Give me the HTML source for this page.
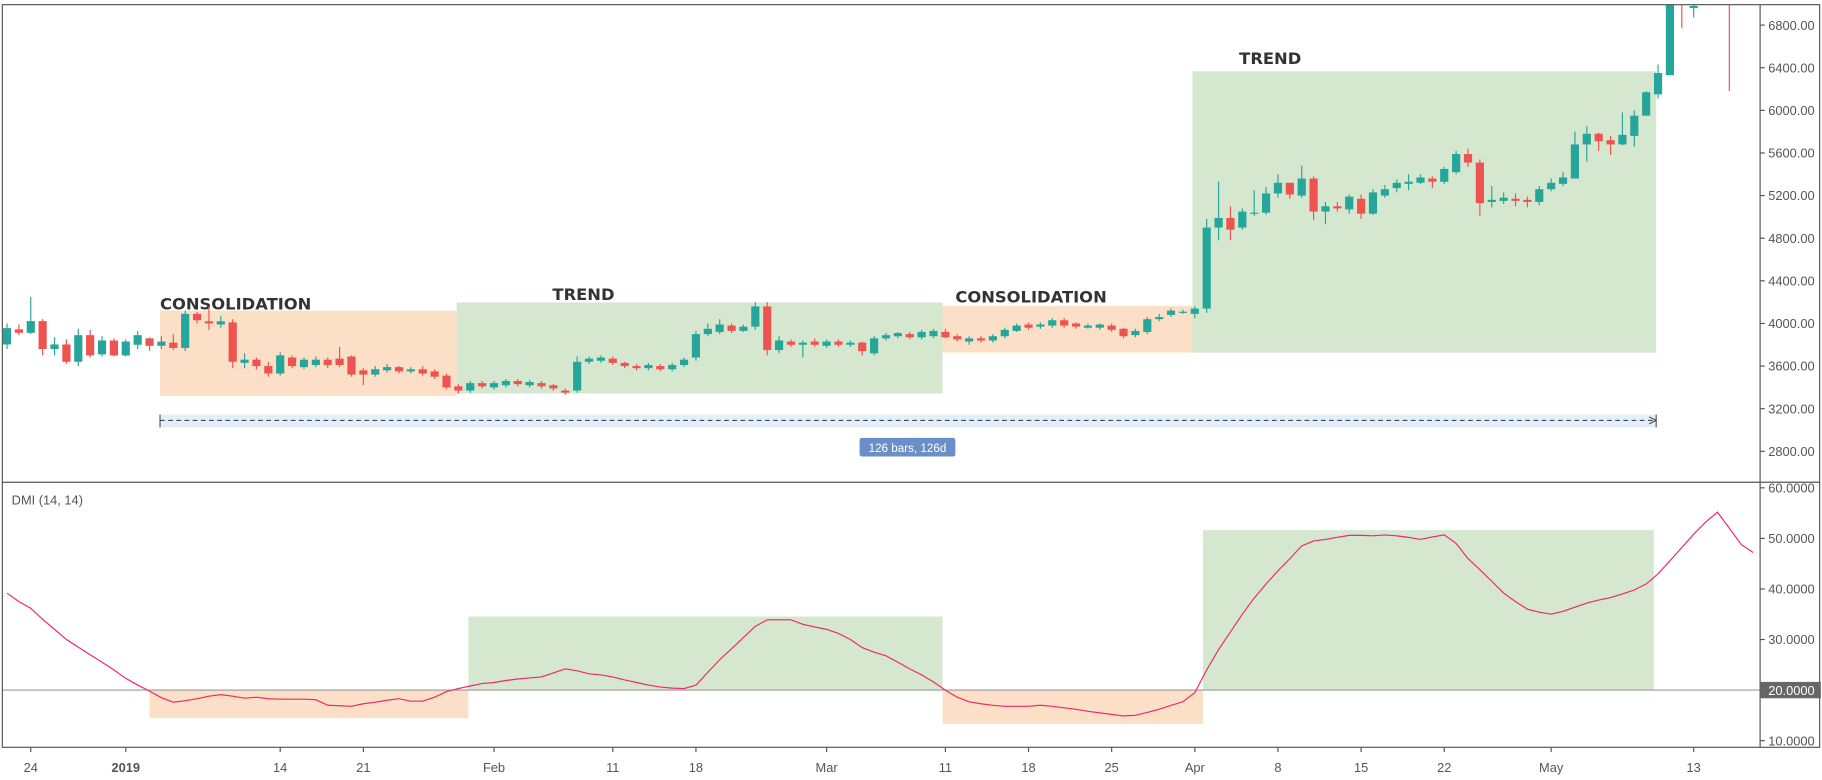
<!DOCTYPE html>
<html><head><meta charset="utf-8"><style>
html,body{margin:0;padding:0;background:#fff;}
svg{display:block;font-family:"Liberation Sans",sans-serif;}
</style></head><body>
<svg id="chart" width="1822" height="780" viewBox="0 0 1560 668" preserveAspectRatio="none" xmlns="http://www.w3.org/2000/svg">
<rect x="0" y="0" width="1560" height="668" fill="#fff"/>
<g id="zones"></g>
<g id="candles"></g>
<g id="dmi"></g>
<g id="axes"></g>
</svg>
<script>
const opens=[3803,3945,3912,4022,3760,3803,3640,3890,3710,3840,3700,3800,3860,3790,3820,3770,4090,4020,3990,4010,3630,3660,3600,3530,3680,3590,3610,3660,3670,3690,3560,3520,3560,3590,3550,3570,3550,3510,3410,3370,3440,3400,3420,3460,3420,3440,3420,3370,3370,3640,3650,3670,3630,3600,3580,3600,3570,3610,3680,3900,3920,3980,3930,3970,4160,3750,3830,3800,3830,3790,3830,3800,3820,3720,3860,3880,3900,3870,3880,3920,3880,3830,3860,3840,3880,3930,3990,3970,3980,4030,4000,3960,3960,3980,3950,3890,3920,4040,4080,4100,4090,4140,4900,4990,4900,5030,5040,5220,5320,5200,5360,5050,5100,5070,5170,5030,5200,5270,5310,5320,5360,5330,5420,5590,5510,5140,5150,5170,5160,5140,5260,5310,5360,5680,5780,5720,5680,5760,5950,6150,6330,7100,6960,7500,7400,7300];
const highs=[4000,3990,4250,4040,3870,3850,3950,3940,3880,3860,3850,3930,3870,3880,3900,4120,4110,4160,4070,4040,3720,3680,3640,3730,3700,3680,3690,3680,3780,3700,3580,3600,3620,3600,3590,3600,3570,3530,3430,3460,3460,3460,3480,3480,3470,3460,3430,3390,3690,3690,3700,3690,3640,3620,3630,3620,3630,3680,3930,4000,4040,4000,3990,4200,4200,3880,3850,3840,3860,3850,3850,3840,3830,3880,3910,3920,3920,3940,3950,3950,3900,3880,3880,3900,3960,4000,4010,4010,4050,4050,4010,4000,4000,4000,3960,3950,4060,4090,4140,4130,4160,4980,5330,5100,5080,5250,5280,5400,5320,5480,5380,5140,5140,5210,5210,5260,5300,5350,5400,5400,5380,5470,5620,5640,5540,5290,5230,5220,5190,5290,5360,5420,5800,5850,5790,5760,5980,6000,6180,6430,7300,7200,7050,7600,7500,7400];
const lows=[3760,3890,3900,3700,3700,3620,3600,3680,3690,3690,3690,3760,3740,3760,3750,3740,4000,3940,3960,3580,3580,3570,3500,3510,3580,3570,3590,3580,3590,3500,3420,3500,3540,3530,3530,3510,3480,3380,3340,3350,3390,3380,3400,3410,3400,3390,3370,3330,3350,3620,3630,3610,3580,3560,3560,3550,3550,3590,3650,3880,3900,3910,3920,3940,3700,3720,3780,3680,3780,3770,3780,3780,3700,3700,3840,3860,3850,3850,3860,3860,3830,3800,3820,3820,3860,3920,3940,3950,3960,3960,3950,3950,3940,3920,3860,3870,3900,4020,4060,4090,4050,4100,4780,4780,4880,5010,5020,5180,5170,5180,4970,4930,5050,5030,4980,5020,5180,5230,5250,5310,5270,5310,5400,5470,5010,5090,5120,5100,5090,5110,5240,5290,5360,5520,5620,5580,5670,5660,5950,6110,6330,6770,6870,7300,7200,6180];
const closes=[3956,3912,4022,3760,3803,3640,3890,3700,3840,3700,3830,3890,3790,3830,3770,4090,4030,4000,4020,3640,3660,3600,3530,3700,3600,3660,3660,3610,3610,3520,3520,3570,3590,3550,3570,3530,3500,3400,3370,3440,3410,3440,3460,3430,3450,3410,3390,3350,3640,3670,3680,3630,3600,3580,3610,3570,3610,3660,3900,3950,3990,3930,3970,4160,3750,3840,3800,3820,3800,3830,3800,3820,3740,3860,3890,3910,3870,3920,3930,3870,3850,3860,3840,3880,3940,3980,3960,3990,4030,3980,3970,3980,3990,3940,3880,3930,4040,4060,4120,4110,4140,4900,4990,4880,5050,5040,5220,5320,5210,5360,5050,5100,5080,5190,5030,5230,5260,5320,5330,5370,5330,5450,5590,5510,5130,5160,5180,5150,5140,5260,5320,5370,5680,5780,5710,5680,5770,5950,6170,6350,7100,7000,6980,7400,7300,7200];
const dmiValues=[39.2,37.5,36.2,34,32,30,28.5,27,25.5,24,22.3,21,19.8,18.5,17.6,17.9,18.3,18.8,19.1,18.8,18.4,18.6,18.3,18.2,18.2,18.2,18.1,17,16.9,16.8,17.3,17.6,18,18.3,17.8,17.8,18.6,19.7,20.3,20.8,21.3,21.5,21.9,22.2,22.4,22.6,23.4,24.2,23.8,23.2,23,22.6,22,21.5,21,20.6,20.4,20.3,21,23.5,26,28.2,30.4,32.6,33.9,33.9,33.9,33,32.5,32,31.2,30,28.4,27.5,26.8,25.5,24.2,23,21.6,20,18.6,17.7,17.3,17,16.8,16.8,16.8,17,16.8,16.5,16.2,15.8,15.5,15.2,14.9,15,15.6,16.2,17,17.7,19.5,24,28,31.5,35,38.2,41,43.6,46,48.5,49.5,49.8,50.2,50.6,50.6,50.5,50.7,50.5,50.2,49.8,50.3,50.7,49,46,43.8,41.5,39.2,37.5,36,35.4,35,35.6,36.4,37.2,37.8,38.3,39,39.8,41,43,45.6,48.2,50.8,53.2,55.2,52,48.8,47.2];
const priceTicks=[2800,3200,3600,4000,4400,4800,5200,5600,6000,6400,6800];
const dmiTicks=[10,20,30,40,50,60];
const dateLabels=["24","2019","14","21","Feb","11","18","Mar","11","18","25","Apr","8","15","22","May","13"];
const dateIndex=[2,10,23,30,41,51,58,69,79,86,93,100,107,114,121,130,142];

const NS="http://www.w3.org/2000/svg";
const PLOT_R=1507, TOP=4, DIV=413, BOT=640;
const xOf=i=>6+i*10.17;
const yP=p=>277-(p-4000)*0.09125;
const yD=v=>591-(v-20)*4.33;
function mk(tag,attrs,parent,text){const e=document.createElementNS(NS,tag);for(const k in attrs)e.setAttribute(k,attrs[k]);if(text!==undefined)e.textContent=text;parent.appendChild(e);return e;}
const svg=document.getElementById('chart');
const defs=mk('defs',{},svg);
const cp=mk('clipPath',{id:'cpTop'},defs);mk('rect',{x:2,y:TOP,width:PLOT_R-2,height:DIV-TOP},cp);
const cp2=mk('clipPath',{id:'cpBot'},defs);mk('rect',{x:2,y:DIV,width:PLOT_R-2,height:BOT-DIV},cp2);

const zones=document.getElementById('zones');
const zoneDefs=[[137,266,391,339,'#fbe0c7','consolidation-zone-1'],[391,259,807,337,'#d5e7cf','trend-zone-1'],[807,262,1021,302,'#fbe0c7','consolidation-zone-2'],[1021,61,1418,302,'#d5e7cf','trend-zone-2'],
[128,591,401,615,'#fbe0c7','dmi-consolidation-zone-1'],[401,528,807,591,'#d5e7cf','dmi-trend-zone-1'],[807,591,1030,620,'#fbe0c7','dmi-consolidation-zone-2'],[1030,454,1416,591,'#d5e7cf','dmi-trend-zone-2']];
zoneDefs.forEach(z=>{const r=mk('rect',{x:z[0],y:z[1],width:z[2]-z[0],height:z[3]-z[1],fill:z[4]},zones);

});
const labs=[[137,265,'CONSOLIDATION','consolidation-label-1'],[473,257,'TREND','trend-label-1'],[818,259,'CONSOLIDATION','consolidation-label-2'],[1061,55,'TREND','trend-label-2']];
labs.forEach(l=>{const t=mk('text',{x:l[0],y:l[1],'font-family':'"DejaVu Sans",sans-serif','font-size':14,'font-weight':'bold',fill:'#333'},zones,l[2]);

});

const meas=mk('g',{},zones);


mk('rect',{x:137,y:355,width:1281,height:11,fill:'#e3eefb'},meas);
mk('line',{x1:137,y1:360,x2:1418,y2:360,stroke:'#333','stroke-width':0.8,'stroke-dasharray':'4,3'},meas);
mk('line',{x1:137,y1:355,x2:137,y2:366,stroke:'#333','stroke-width':0.8},meas);
mk('line',{x1:1418,y1:355,x2:1418,y2:366,stroke:'#333','stroke-width':0.8},meas);
mk('path',{d:'M1412,357 L1418,360 L1412,363',fill:'none',stroke:'#333','stroke-width':0.8},meas);
mk('rect',{x:736,y:375,width:82,height:16,rx:2,fill:'#6a8ec8'},meas);
mk('text',{x:777,y:387,'text-anchor':'middle','font-size':10,fill:'#fff'},meas,'126 bars, 126d');

const cg=document.getElementById('candles');cg.setAttribute('clip-path','url(#cpTop)');
for(let i=0;i<opens.length;i++){
 const up=closes[i]>=opens[i];const col=up?'#26a69a':'#ef5350';const x=xOf(i);
 const g=mk('g',{},cg);
 
 
 mk('line',{x1:x,y1:yP(highs[i]),x2:x,y2:yP(lows[i]),stroke:col,'stroke-width':1},g);
 const t=Math.min(yP(opens[i]),yP(closes[i]));const h=Math.max(1,Math.abs(yP(opens[i])-yP(closes[i])));
 mk('rect',{x:x-3.5,y:t,width:7,height:h,fill:col},g);
}

const dg=document.getElementById('dmi');dg.setAttribute('clip-path','url(#cpBot)');
const hl=mk('line',{x1:2,y1:yD(20),x2:PLOT_R,y2:yD(20),stroke:'#9a9a9a','stroke-width':1},dg);


const pts=dmiValues.map((v,i)=>xOf(i).toFixed(1)+','+yD(v).toFixed(1)).join(' ');
const pl=mk('polyline',{points:pts,fill:'none',stroke:'#f0286a','stroke-width':1},dg);


const dl=mk('text',{x:10,y:432,'font-size':11,fill:'#555'},dg,'DMI (14, 14)');



const ax=document.getElementById('axes');
mk('rect',{x:2,y:TOP,width:1556,height:BOT-TOP,fill:'none',stroke:'#555','stroke-width':1},ax);
mk('line',{x1:PLOT_R,y1:TOP,x2:PLOT_R,y2:BOT,stroke:'#555','stroke-width':1},ax);
mk('line',{x1:2,y1:DIV,x2:1558,y2:DIV,stroke:'#555','stroke-width':1},ax);
const pa=mk('g',{},ax);


priceTicks.forEach(p=>{const y=yP(p);mk('line',{x1:PLOT_R,y1:y,x2:PLOT_R+4,y2:y,stroke:'#555'},pa);
 mk('text',{x:1514,y:y+4,'font-size':11,fill:'#555'},pa,p.toFixed(2));});
const da=mk('g',{},ax);


dmiTicks.forEach(v=>{const y=yD(v);
 if(v===20){mk('rect',{x:PLOT_R,y:y-7,width:52,height:14,fill:'#666'},da);mk('text',{x:1514,y:y+4,'font-size':11,fill:'#fff'},da,v.toFixed(4));}
 else{mk('line',{x1:PLOT_R,y1:y,x2:PLOT_R+4,y2:y,stroke:'#555'},da);mk('text',{x:1514,y:y+4,'font-size':11,fill:'#555'},da,v.toFixed(4));}});
const ta=mk('g',{},ax);


dateLabels.forEach((s,k)=>{const x=xOf(dateIndex[k]);mk('line',{x1:x,y1:BOT,x2:x,y2:BOT+4,stroke:'#555'},ta);
 mk('text',{x:x,y:661,'text-anchor':'middle','font-size':11,fill:'#555','font-weight':s==='2019'?'bold':'normal'},ta,s);});
</script>
</body></html>
